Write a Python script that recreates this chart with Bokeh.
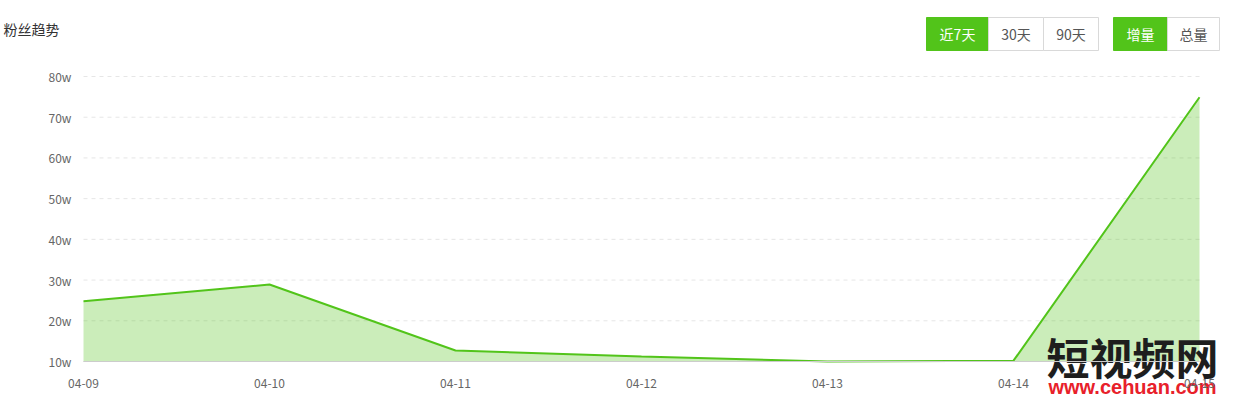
from bokeh.plotting import figure
from bokeh.models import FixedTicker, Range1d
from bokeh.core.properties import value
from bokeh.embed import file_html
from bokeh.resources import INLINE

dates = ["04-09", "04-10", "04-11", "04-12", "04-13", "04-14", "04-15"]
fans_w = [24.8, 28.9, 12.7, 11.2, 10.0, 10.2, 74.9]
y_ticks = [10, 20, 30, 40, 50, 60, 70, 80]
y_labels = ["10w", "20w", "30w", "40w", "50w", "60w", "70w", "80w"]
title_text = "粉丝趋势"
buttons_1 = ["近7天", "30天", "90天"]
buttons_2 = ["增量", "总量"]
watermark_1 = "短视频网"
watermark_2 = "www.cehuan.com"

GREEN = "#52c41a"
FONT = "Noto Sans CJK SC"
W, H = 1222, 397

# plot-area placement in canvas pixels
PL, PR, PT, PB = 83, 1199, 76, 361
n = len(dates)
y0, y1 = y_ticks[0], y_ticks[-1]
px_per_x = (PR - PL) / (n - 1)
px_per_y = (PB - PT) / (y1 - y0)


def cx(px):  # canvas pixel x -> data x (for decorations only)
    return (px - PL) / px_per_x


def cy(py):  # canvas pixel y -> data y (for decorations only)
    return y0 + (PB - py) / px_per_y


p = figure(width=W, height=H, output_backend="svg", toolbar_location=None,
           x_range=Range1d(cx(0), cx(W)), y_range=Range1d(cy(H), cy(0)),
           min_border=0, outline_line_color=None)

xs = list(range(n))

# dashed horizontal grid limited to the plot area
p.segment(x0=[0] * len(y_ticks), x1=[n - 1] * len(y_ticks), y0=y_ticks, y1=y_ticks,
          line_color="#e6e6e6", line_width=1, line_dash="4 4")

p.varea(x=xs, y1=[y0] * n, y2=fans_w, fill_color=GREEN, fill_alpha=0.3)
p.line(x=xs, y=fans_w, line_color=GREEN, line_width=2)

p.grid.visible = False

p.xaxis.fixed_location = y0
p.xaxis.bounds = (0, n - 1)
p.xaxis.ticker = FixedTicker(ticks=xs)
p.xaxis.major_label_overrides = {i: d for i, d in enumerate(dates)}
p.yaxis.fixed_location = 0
p.yaxis.bounds = (y0, y1)
p.yaxis.ticker = FixedTicker(ticks=y_ticks)
p.yaxis.major_label_overrides = {t: l for t, l in zip(y_ticks, y_labels)}

for ax in (p.xaxis, p.yaxis):
    ax.major_tick_line_color = None
    ax.minor_tick_line_color = None
    ax.major_label_text_font = FONT
    ax.major_label_text_font_size = "12px"
    ax.major_label_text_color = "#666666"
p.yaxis.axis_line_color = None
p.yaxis.major_label_standoff = 6
p.xaxis.axis_line_color = "#cccccc"
p.xaxis.major_label_standoff = 11

# header: title and toggle buttons
p.text(x=[cx(3)], y=[cy(28)], text=[title_text], text_font=value(FONT),
       text_font_size="14px", text_color="#333333", text_baseline="middle")

b_top, b_bot = 17, 50
for edges, labels in (([926, 988, 1043, 1098], buttons_1), ([1113, 1167, 1219], buttons_2)):
    lefts = [cx(e) for e in edges[:-1]]
    rights = [cx(e) for e in edges[1:]]
    k = len(labels)
    fills = [GREEN] + ["white"] * (k - 1)
    lines = [GREEN] + ["#d9d9d9"] * (k - 1)
    tcols = ["white"] + ["#555555"] * (k - 1)
    p.quad(left=lefts, right=rights, top=[cy(b_top)] * k, bottom=[cy(b_bot)] * k,
           fill_color=fills, line_color=lines, line_width=1)
    p.text(x=[(l + r) / 2 for l, r in zip(lefts, rights)], y=[cy((b_top + b_bot) / 2)] * k,
           text=labels, text_font=value(FONT), text_font_size="14px",
           text_color=tcols, text_align="center", text_baseline="middle")

# watermark
p.text(x=[cx(1132)], y=[cy(355)], text=[watermark_1], text_font=value(FONT),
       text_font_size="43px", text_font_style="bold", text_color="#1e1e1e",
       text_align="center", text_baseline="middle")
p.text(x=[cx(1132)], y=[cy(386)], text=[watermark_2], text_font=value("Liberation Sans"),
       text_font_size="20px", text_font_style="bold", text_color="#e8202a",
       text_align="center", text_baseline="middle")

open("out.html", "w").write(file_html(p, INLINE))
